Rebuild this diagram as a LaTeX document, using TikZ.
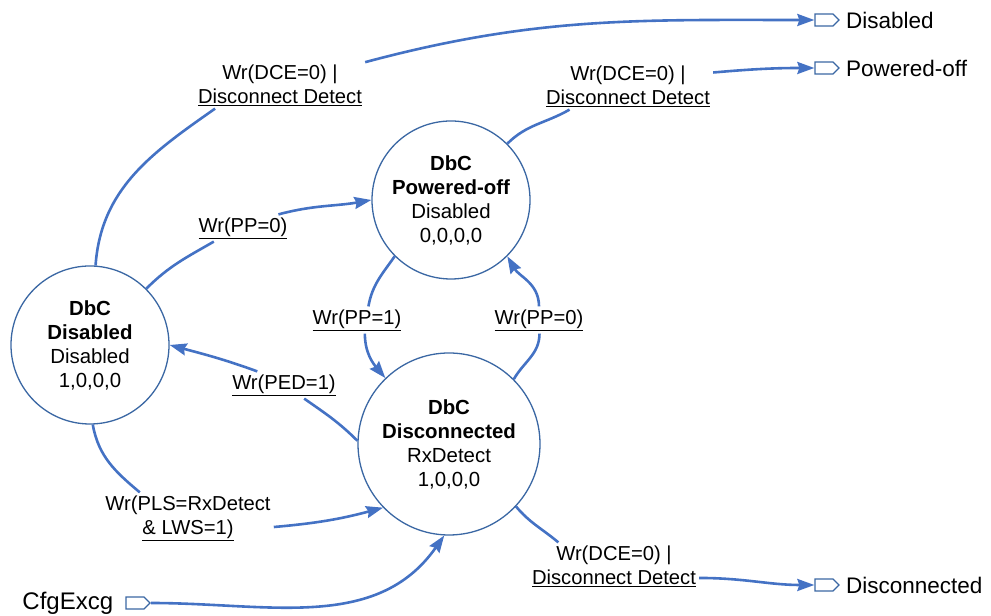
\documentclass[tikz,border=0pt]{standalone}
\usepackage{fontspec}
\setmainfont{Liberation Sans}
\usetikzlibrary{arrows.meta,positioning,shapes.symbols}
\definecolor{wireblue}{HTML}{4472C4}
\definecolor{rimblue}{HTML}{3A67A3}

\begin{document}
\begin{tikzpicture}[x=1bp,y=1bp,>={Stealth[length=17bp,width=12bp,inset=2bp]},
  st/.style={circle,draw=rimblue,line width=1.3bp,minimum size=158bp,inner sep=0pt,align=center,font=\fontsize{20.4bp}{24bp}\selectfont},
  lab/.style={align=center,inner sep=3bp,font=\fontsize{20.2bp}{24bp}\selectfont},
  wire/.style={draw=wireblue,line width=2.6bp},
  port/.style={signal,signal to=east,draw=rimblue,line width=1.3bp,minimum width=24bp,minimum height=12bp,inner sep=0pt},
  plab/.style={inner sep=0pt,font=\fontsize{22.5bp}{26bp}\selectfont}]
\useasboundingbox (0,0) rectangle (991,616);
% states
\node[st] (dis) at (90,271) {\textbf{DbC}\\\textbf{Disabled}\\Disabled\\1,0,0,0};
\node[st] (pwr) at (451,416) {\textbf{DbC}\\\textbf{Powered-off}\\Disabled\\0,0,0,0};
\node[st,minimum size=182bp] (dcn) at (449,172) {\textbf{DbC}\\\textbf{Disconnected}\\RxDetect\\1,0,0,0};
% ports
\node[port] (pDis) at (824,596) {};
\node[port] (pPwr) at (824,548) {};
\node[port] (pDcn) at (824,31) {};
\node[port] (pCfg) at (135,13) {};
\node[plab,right=6bp of pDis] (tDis) {Disabled};
\node[plab,right=6bp of pPwr] (tPwr) {Powered-off};
\node[plab,right=6bp of pDcn] (tDcn) {Disconnected};
\node[plab,left=12bp of pCfg,font=\fontsize{24bp}{28bp}\selectfont] (tCfg) {CfgExcg};
% transition labels
\node[lab] (lDis) at (280,531) {Wr(DCE=0) |\\\underline{Disconnect Detect}};
\node[lab] (lPwr) at (628,530) {Wr(DCE=0) |\\\underline{Disconnect Detect}};
\node[lab] (lPP0a) at (243,388) {\underline{Wr(PP=0)}};
\node[lab] (lPP1) at (357,296) {\underline{Wr(PP=1)}};
\node[lab] (lPP0b) at (539,296) {\underline{Wr(PP=0)}};
\node[lab] (lPED) at (284,231) {\underline{Wr(PED=1)}};
\node[lab] (lPLS) at (188,98) {Wr(PLS=RxDetect\\\underline{\& LWS=1)}};
\node[lab] (lDcn) at (614,50) {Wr(DCE=0) |\\\underline{Disconnect Detect}};
% transitions
\draw[wire] (dis.86) to[out=86,in=215] (lDis.200);
\draw[wire,->] (lDis.15) to[out=15,in=180] (pDis.west);
\draw[wire] (pwr.45) to[out=45,in=210] (lPwr.202);
\draw[wire,->] (lPwr.9) to[out=5,in=180] (pPwr.west);
\draw[wire] (dis.45) to[out=45,in=210] (lPP0a.205);
\draw[wire,->] (lPP0a.21) to[out=15,in=190] (pwr.west);
\draw[wire] (pwr.225) to[out=235,in=80] (lPP1.50);
\draw[wire,->] (lPP1.300) to[out=-90,in=130] (dcn.134);
\draw[wire] (dcn.45) to[out=60,in=-90] (lPP0b.-88);
\draw[wire,->] (lPP0b.90) to[out=90,in=-60] (pwr.-45);
\draw[wire] (dcn.178) to[out=135,in=-35] (lPED.326);
\draw[wire,->] (lPED.153) to[out=160,in=-15] (dis.east);
\draw[wire] (dis.-88) to[out=-80,in=140] (lPLS.152);
\draw[wire,->] (lPLS.-6) to[out=5,in=195] (dcn.224);
\draw[wire,->] (pCfg.east) to[out=0,in=235] (dcn.267);
\draw[wire] (dcn.-43) to[out=-50,in=140] (lDcn.157);
\draw[wire,->] (lDcn.-8) to[out=0,in=180] (pDcn.west);
\end{tikzpicture}
\end{document}
